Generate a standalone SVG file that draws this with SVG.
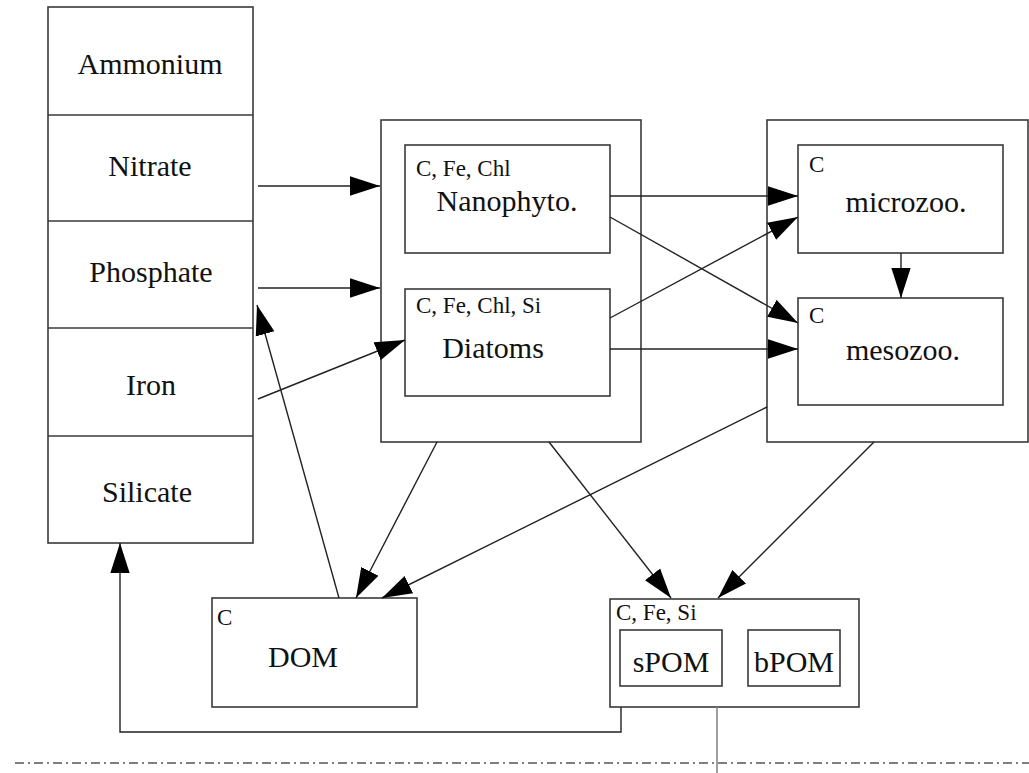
<svg xmlns="http://www.w3.org/2000/svg" width="1029" height="773" viewBox="0 0 1029 773">
<defs>
<style>
.box{fill:#fff;stroke:#3a3a3a;stroke-width:1.6}
.ln{fill:none;stroke:#222;stroke-width:1.4}
.big{font-family:'Liberation Serif','Times New Roman',serif;font-size:30px;fill:#111;text-anchor:middle}
.sm{font-family:'Liberation Serif','Times New Roman',serif;font-size:23px;fill:#111}
</style>
<marker id="ah" markerUnits="userSpaceOnUse" markerWidth="30" markerHeight="20" viewBox="0 0 28 18" refX="28" refY="9" orient="auto">
<path d="M0,0 L28,9 L0,18 Z" fill="#000"/>
</marker>
</defs>
<rect width="1029" height="773" fill="#fff"/>

<g id="nutrients">
<rect class="box" x="48" y="7" width="205" height="536"/>
<line class="box" x1="48" y1="115" x2="253" y2="115"/>
<line class="box" x1="48" y1="221" x2="253" y2="221"/>
<line class="box" x1="48" y1="328" x2="253" y2="328"/>
<line class="box" x1="48" y1="436" x2="253" y2="436"/>
<text class="big" x="150" y="74">Ammonium</text>
<text class="big" x="150" y="176">Nitrate</text>
<text class="big" x="151" y="282">Phosphate</text>
<text class="big" x="151" y="395">Iron</text>
<text class="big" x="147" y="502">Silicate</text>
</g>

<g id="phyto">
<rect class="box" x="381" y="120" width="260" height="322"/>
<g id="nanophyto">
<rect class="box" x="405" y="145" width="205" height="108"/>
<text class="sm" x="416" y="176">C, Fe, Chl</text>
<text class="big" x="507" y="211">Nanophyto.</text>
</g>
<g id="diatoms">
<rect class="box" x="405" y="289" width="205" height="107"/>
<text class="sm" x="416" y="313">C, Fe, Chl, Si</text>
<text class="big" x="493" y="358">Diatoms</text>
</g>
</g>

<g id="zoo">
<rect class="box" x="767" y="120" width="261" height="322"/>
<g id="microzoo">
<rect class="box" x="798" y="145" width="205" height="108"/>
<text class="sm" x="809" y="172">C</text>
<text class="big" x="906" y="212">microzoo.</text>
</g>
<g id="mesozoo">
<rect class="box" x="798" y="298" width="205" height="107"/>
<text class="sm" x="809" y="323">C</text>
<text class="big" x="903" y="360">mesozoo.</text>
</g>
</g>

<g id="dom">
<rect class="box" x="212" y="598" width="205" height="109"/>
<text class="sm" x="217" y="625">C</text>
<text class="big" x="303" y="667">DOM</text>
</g>

<g id="pom">
<rect class="box" x="610" y="599" width="249" height="108"/>
<text class="sm" x="616" y="620">C, Fe, Si</text>
<g id="spom">
<rect class="box" x="620" y="630" width="102" height="56"/>
<text class="big" x="671" y="672">sPOM</text>
</g>
<g id="bpom">
<rect class="box" x="748" y="630" width="92" height="56"/>
<text class="big" x="794" y="672">bPOM</text>
</g>
</g>

<g id="connectors">
<line class="ln" x1="258" y1="186" x2="380" y2="186" marker-end="url(#ah)"/>
<line class="ln" x1="258" y1="288" x2="380" y2="288" marker-end="url(#ah)"/>
<line class="ln" x1="258" y1="399" x2="405" y2="340" marker-end="url(#ah)"/>
<line class="ln" x1="339" y1="598" x2="257" y2="305" marker-end="url(#ah)"/>
<line class="ln" x1="610" y1="196" x2="798" y2="196" marker-end="url(#ah)"/>
<line class="ln" x1="610" y1="217" x2="798" y2="323" marker-end="url(#ah)"/>
<line class="ln" x1="610" y1="318" x2="798" y2="217" marker-end="url(#ah)"/>
<line class="ln" x1="610" y1="349" x2="798" y2="349" marker-end="url(#ah)"/>
<line class="ln" x1="901" y1="253" x2="901" y2="298" marker-end="url(#ah)"/>
<line class="ln" x1="437" y1="442" x2="356" y2="598" marker-end="url(#ah)"/>
<line class="ln" x1="767" y1="407" x2="382" y2="598" marker-end="url(#ah)"/>
<line class="ln" x1="549" y1="442" x2="671" y2="598" marker-end="url(#ah)"/>
<line class="ln" x1="874" y1="442" x2="718" y2="598" marker-end="url(#ah)"/>
<polyline class="ln" points="621,707 621,732 120,732 120,543" marker-end="url(#ah)"/>
<line x1="717" y1="707" x2="717" y2="773" stroke="#888" stroke-width="1.6"/>
<line x1="15" y1="763" x2="1029" y2="763" stroke="#555" stroke-width="1.4" stroke-dasharray="9 4 2 4"/>
</g>
</svg>
